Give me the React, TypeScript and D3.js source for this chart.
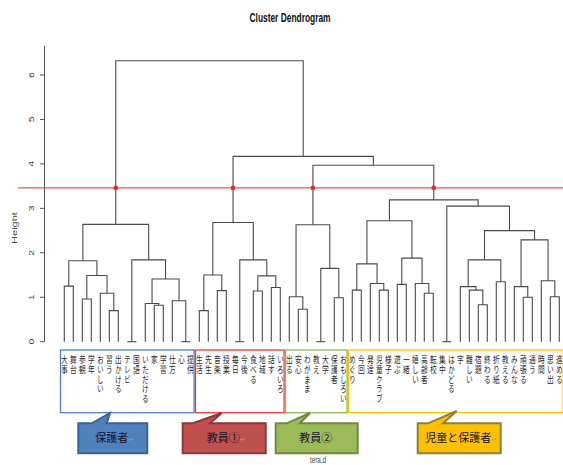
import React from 'react';
import * as d3 from 'd3';

// Leaf labels in dendrogram order
const labels: string[] = [
  '大事', '舞台', '参観', '学年', 'おいしい', '習う', '出かける', 'テレビ', '国語', 'いただける', '家', '学習', '仕方', '心', '提供',
  '生活', '先生', '音楽', '授業', '毎日', '今後', '食べる', '地域', '話す', 'いろいろ',
  '出る', '安心', 'わがまま', '教え', '大学', '保護者', 'おもしろい',
  'めぐり', '今回', '発達', '児童クラブ', '様子', '遊ぶ', '一緒', '嬉しい', '高齢者', '転校', '集中', 'はかどる', '字', '難しい', '宿題', '終わる', '折り紙', '教える', 'みんな', '頑張る', '通う', '時間', '思い出', '進める',
];

// R-style merge matrix: negative = leaf (1-based position), positive = earlier merge
const merges: [number, number][] = [
  [-14, -15], [-8, -9], [-20, -21], [-29, -30], [-43, -44],
  [-6, -7], [-16, -17], [-27, -28], [-47, -48], [-11, -12],
  [-10, 10], [-13, 1], [-3, -4], [-31, -32], [-52, -53],
  [-55, -56], [-26, 8], [-5, 6], [-41, -42], [-18, -19],
  [-22, -23], [-33, -34], [-36, -37], [-46, 9], [-24, -25],
  [-1, -2], [-45, 24], [-51, 15], [-38, -39], [-35, 23],
  [-40, 19], [-49, -50], [-54, 16], [11, 12], [21, 25],
  [13, 18], [7, 20], [3, 35], [4, 14], [22, 30],
  [26, 36], [2, 34], [27, 32], [29, 31], [28, 33],
  [43, 45], [17, 39], [41, 42], [37, 38], [40, 44],
  [5, 46], [50, 51], [47, 52], [49, 53], [48, 54],
];
const heights: number[] = [
  0.0, 0.0, 0.0, 0.0, 0.0,
  0.70, 0.70, 0.73, 0.83, 0.82,
  0.86, 0.92, 0.96, 0.99, 1.00,
  1.01, 1.01, 1.09, 1.09, 1.15,
  1.14, 1.16, 1.16, 1.16, 1.22,
  1.25, 1.24, 1.24, 1.29, 1.31,
  1.31, 1.35, 1.37, 1.41, 1.48,
  1.49, 1.50, 1.84, 1.65, 1.75,
  1.82, 1.84, 1.84, 1.88, 2.29,
  2.50, 2.63, 2.64, 2.68, 2.72,
  3.05, 3.19, 3.97, 4.17, 6.32,
];

const yTicks: number[] = [0, 1, 2, 3, 4, 5, 6];
const cutHeight = 3.46;

// Groups: first and last leaf index, name
const groupStart: number[] = [0, 15, 25, 32];
const groupEnd: number[] = [14, 24, 31, 55];
const groupNames: string[] = ['保護者', '教員①', '教員②', '児童と保護者'];

// styling / layout (not data)
const boxColors = ['#4f7fbf', '#ee3b3b', '#8fb35a', '#ffc000'];
const calloutFill = ['#4f81bd', '#c0504d', '#9bbb59', '#ffc000'];
const calloutStroke = ['#3a6391', '#8c3836', '#71893f', '#8a8040'];
const calloutRect = [
  { x0: 78.3, x1: 147.3, b0: 91.7, b1: 106.7, tx: 110, ty: 413 },
  { x0: 182.7, x1: 265.7, b0: 193, b1: 210, tx: 221.7, ty: 413 },
  { x0: 275.7, x1: 357.7, b0: 286.7, b1: 300, tx: 310, ty: 413 },
  { x0: 417.7, x1: 500.7, b0: 428, b1: 443, tx: 456.7, ty: 411 },
];

const SX = 0.7;

export default function App() {
  const W = 563, H = 465;
  const x = d3.scaleLinear().domain([0, labels.length - 1]).range([64.3, 559.3]);
  const y = d3.scaleLinear().domain([0, 6]).range([341.7, 75]);

  const nodeX: number[] = [];
  const nodeY: number[] = [];
  const parent: number[] = new Array(merges.length).fill(-1);
  const pos = (ref: number) =>
    ref < 0 ? { x: x(-ref - 1), y: y(0) } : { x: nodeX[ref - 1], y: nodeY[ref - 1] };
  const paths: string[] = [];
  merges.forEach(([a, b], i) => {
    const pa = pos(a), pb = pos(b);
    const yy = y(heights[i]);
    nodeX[i] = (pa.x + pb.x) / 2;
    nodeY[i] = yy;
    if (a > 0) parent[a - 1] = i;
    if (b > 0) parent[b - 1] = i;
    paths.push(`M${pa.x},${pa.y}V${yy}H${pb.x}V${pb.y}`);
  });
  const dots: number[] = [];
  merges.forEach((_, i) => {
    const p = parent[i];
    if (p >= 0 && heights[i] < cutHeight && heights[p] > cutHeight) dots.push(nodeX[i]);
  });

  const boxTop = 350, boxBottom = 412.7;

  return (
    <svg width={W} height={H} style={{ position: 'absolute', left: 0, top: 0, background: '#fff' }}>
      <rect x={0} y={0} width={W} height={H} fill="#fff" />
      {/* title */}
      <text x={290} y={22} textAnchor="middle" fontFamily="Liberation Sans, Arial, sans-serif" fontWeight="bold"
        fontSize={12.5} fill="#111" textLength={81} lengthAdjust="spacingAndGlyphs">Cluster Dendrogram</text>

      {/* y axis */}
      <line x1={44.5} x2={44.5} y1={46} y2={y(0)} stroke="#555" strokeWidth={1} />
      {yTicks.map((t) => (
        <g key={t}>
          <line x1={40} x2={44.5} y1={y(t)} y2={y(t)} stroke="#555" strokeWidth={1} />
          <g transform={`translate(34,${y(t)}) scale(${SX},1) rotate(-90)`}>
            <text x={0} y={0} textAnchor="middle" fontFamily="Liberation Sans, Arial, sans-serif" fontSize={10.5} fill="#444">{t}</text>
          </g>
        </g>
      ))}
      <g transform={`translate(17,228) scale(${SX},1) rotate(-90)`}>
        <text x={0} y={0} textAnchor="middle" fontFamily="Liberation Sans, Arial, sans-serif" fontSize={11} fill="#444">Height</text>
      </g>

      {/* dendrogram */}
      <g fill="none" stroke="#4a4a4a" strokeWidth={1.1}>
        {paths.map((d, i) => <path key={i} d={d} />)}
      </g>

      {/* cut line */}
      <line x1={18} x2={W} y1={y(cutHeight)} y2={y(cutHeight)} stroke="#e03a3a" strokeOpacity={0.85} strokeWidth={1.3} />
      {dots.map((dx, i) => <circle key={i} cx={dx} cy={y(cutHeight)} r={2.4} fill="#d93030" />)}

      {/* leaf labels */}
      {labels.map((lab, i) => (
        <g key={i} transform={`translate(${x(i)},355) scale(${SX},1)`}>
          <text x={0} y={0} fontFamily="Noto Sans CJK JP, sans-serif" fontSize={9.6} fill="#2a2a2a"
            style={{ writingMode: 'vertical-rl', textOrientation: 'upright' } as any}>{lab}</text>
        </g>
      ))}

      {/* group boxes */}
      {groupStart.map((s, g) => {
        const x0 = x(s - 0.5) + 0.7;
        const x1 = x(groupEnd[g] + 0.5) - 0.7;
        return <rect key={g} x={x0} y={boxTop} width={x1 - x0} height={boxBottom - boxTop}
          fill="none" stroke={boxColors[g]} strokeWidth={1.3} />;
      })}

      {/* callouts */}
      {groupNames.map((name, g) => {
        const c = calloutRect[g];
        const top = 423.3, bot = 453.3;
        const d = `M${c.x0},${top}H${c.b0}L${c.tx},${c.ty}L${c.b1},${top}H${c.x1}V${bot}H${c.x0}Z`;
        const cx = (c.x0 + c.x1) / 2 + 2;
        return (
          <g key={g}>
            <path d={d} fill={calloutFill[g]} stroke={calloutStroke[g]} strokeWidth={2} strokeLinejoin="miter" />
            <text x={cx} y={442} textAnchor="middle" fontFamily="Noto Sans CJK JP, sans-serif" fontSize={11} fill="#141428">
              {name}<tspan fontSize={7} fill="#9aa0a8">↵</tspan>
            </text>
          </g>
        );
      })}

      {/* x label */}
      <g transform={`translate(318,463) scale(${SX},1)`}>
        <text x={0} y={0} textAnchor="middle" fontFamily="Liberation Sans, Arial, sans-serif" fontSize={9} fill="#444">tera.d</text>
      </g>
    </svg>
  );
}
